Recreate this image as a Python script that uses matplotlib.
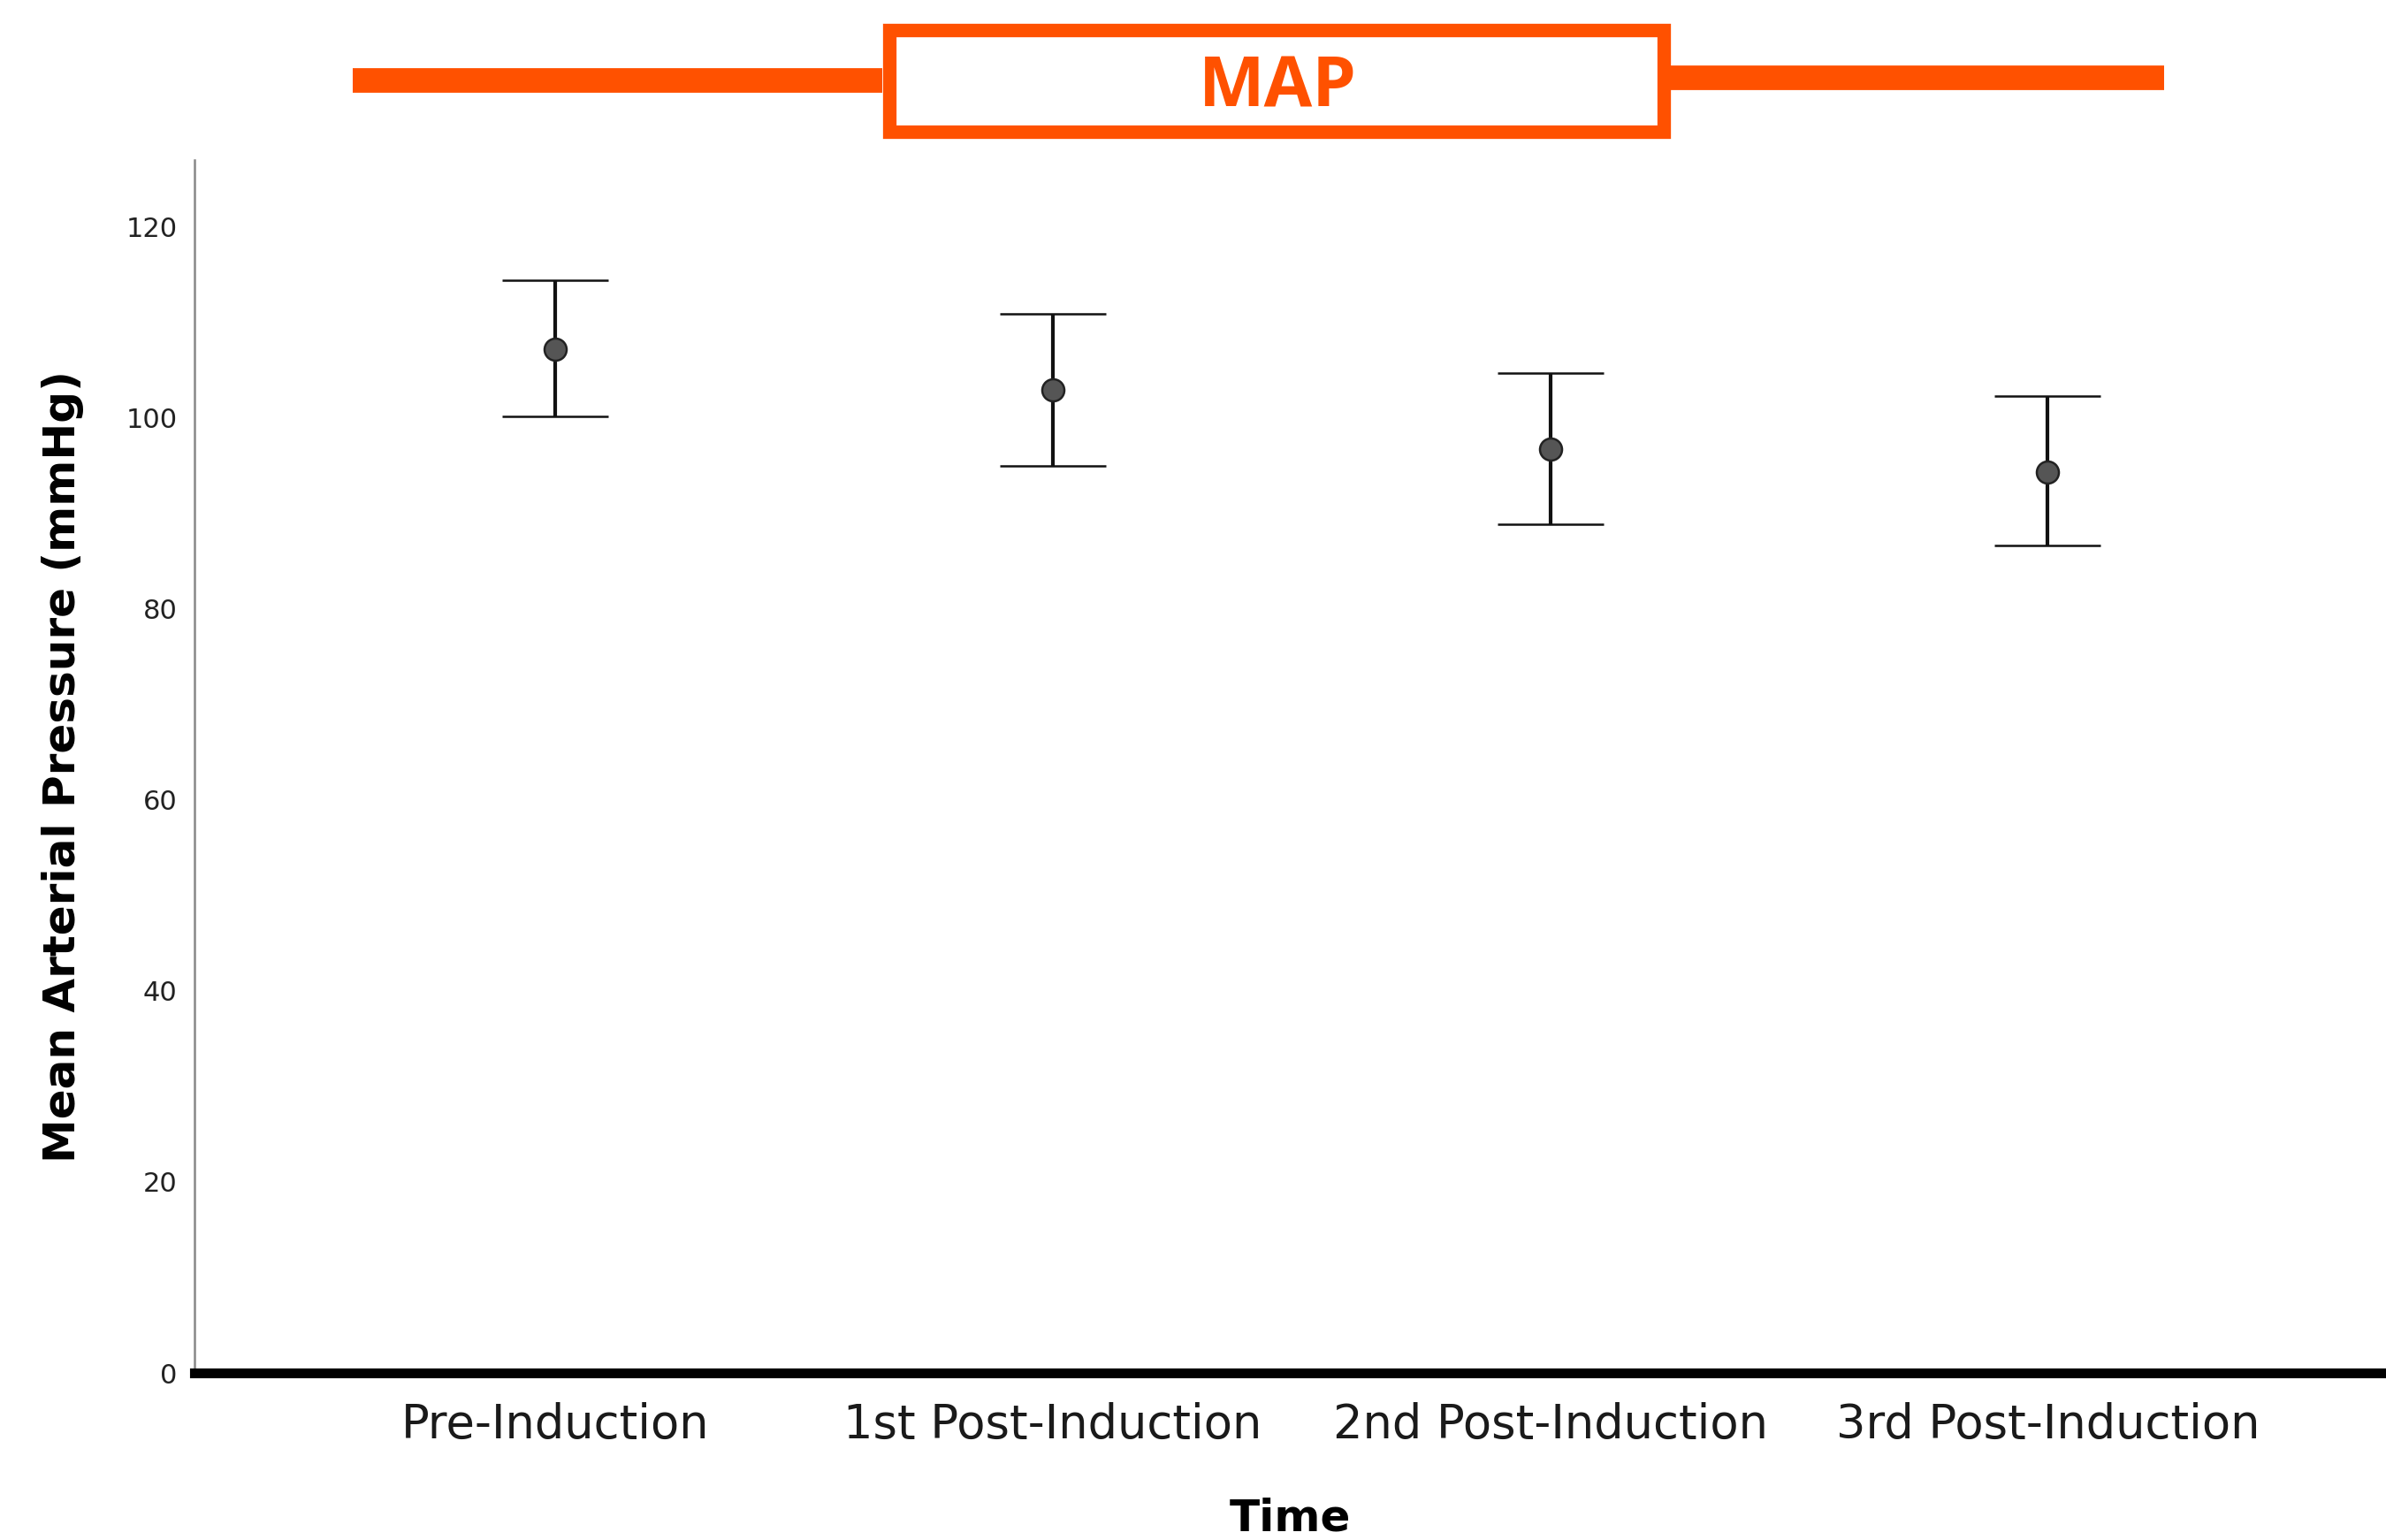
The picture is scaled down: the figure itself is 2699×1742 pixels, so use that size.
import matplotlib
matplotlib.use("Agg")
import matplotlib.pyplot as plt
from matplotlib.lines import Line2D
from matplotlib.patches import Rectangle

# data
categories = ["Pre-Induction", "1st Post-Induction", "2nd Post-Induction", "3rd Post-Induction"]
means = [107.2, 102.9, 96.7, 94.3]
upper = [114.4, 110.9, 104.7, 102.3]
lower = [100.2, 95.0, 88.9, 86.6]
yticks = [0, 20, 40, 60, 80, 100, 120]

ORANGE = "#FF5100"
W, H = 2699, 1742
fig = plt.figure(figsize=(W/100, H/100), dpi=100)
ax = fig.add_axes([220/W, 1-1553/H, 1-220/W, (1553-181)/H])

x = list(range(len(categories)))
err = [[m-l for m, l in zip(means, lower)], [u-m for m, u in zip(means, upper)]]
ax.errorbar(x, means, yerr=err, fmt="o", ms=18, mfc="#555555", mec="#222222", mew=1.8,
            ecolor="#111111", elinewidth=3, capsize=43, capthick=6.5, zorder=3)

ax.set_xlim(-0.725, 3.68)
ax.set_ylim(0, 127)
ax.set_yticks(yticks)
ax.set_xticks(x)
ax.set_xticklabels(categories, fontsize=38, color="#1a1a1a")
ax.tick_params(axis="y", length=0, pad=14, labelsize=22, labelcolor="#222222")
ax.tick_params(axis="x", length=0, pad=24)
for s in ("top", "right"):
    ax.spines[s].set_visible(False)
ax.spines["left"].set_color("#888888"); ax.spines["left"].set_linewidth(1.8)
ax.spines["bottom"].set_color("black"); ax.spines["bottom"].set_linewidth(8)
ax.set_xlabel("Time", fontsize=36, fontweight="bold", labelpad=40)
ax.set_ylabel("Mean Arterial Pressure (mmHg)", fontsize=36, fontweight="bold", labelpad=34)

# orange title banner
def fx(px): return px/W
def fy(py): return 1-py/H
fig.add_artist(Line2D([fx(399), fx(998)], [fy(91), fy(91)], color=ORANGE, lw=20, solid_capstyle="butt"))
fig.add_artist(Line2D([fx(1890), fx(2448)], [fy(88), fy(88)], color=ORANGE, lw=20, solid_capstyle="butt"))
fig.add_artist(Rectangle((fx(1006), fy(149)), fx(1882-1006), (149-34)/H, fill=False,
                         ec=ORANGE, lw=11, transform=fig.transFigure))
fig.text(fx(1445), fy(100), "MAP", color=ORANGE, fontsize=57, fontweight="bold",
         family="Open Sans", ha="center", va="center")

fig.savefig("out.png", dpi=100)
